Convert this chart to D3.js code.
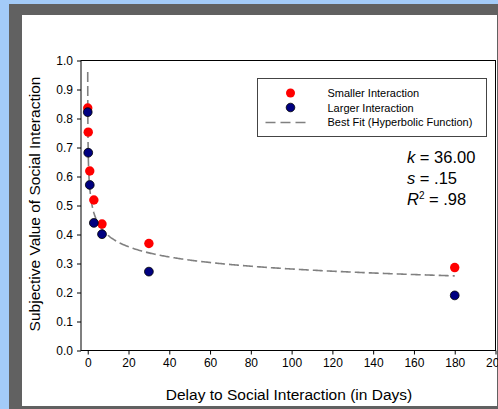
<!DOCTYPE html>
<html>
<head>
<meta charset="utf-8">
<script src="https://cdn.jsdelivr.net/npm/d3@7"></script>
<style>
  body { margin: 0; }
  svg { display: block; font-family: "Liberation Sans", Arial, sans-serif; }
</style>
</head>
<body>
<svg width="498" height="409"></svg>
<script>
var svg = d3.select("svg"),
  width = +svg.attr("width"),
  height = +svg.attr("height");

// delays in days
var delays = [0, 0.25, 1, 3, 7, 30, 180];
var smaller = [0.836, 0.753, 0.619, 0.519, 0.436, 0.369, 0.286];
var larger = [0.822, 0.682, 0.571, 0.440, 0.401, 0.272, 0.190];
var xTicks = [0, 20, 40, 60, 80, 100, 120, 140, 160, 180, 200];
var yTicks = [0, 0.1, 0.2, 0.3, 0.4, 0.5, 0.6, 0.7, 0.8, 0.9, 1.0];
var legendLabels = ["Smaller Interaction", "Larger Interaction", "Best Fit (Hyperbolic Function)"];

// fit parameters shown on the chart
var fitA = 0.96, fitK = 36, fitS = 0.15;

// page frame
svg.append("rect").attr("width", width).attr("height", height).attr("fill", "#a3cbf8");
svg.append("rect").attr("x", 9).attr("y", 4).attr("width", width - 9).attr("height", height - 4).attr("fill", "#616161");
svg.append("rect").attr("x", 22).attr("y", 15).attr("width", 475).attr("height", 391).attr("fill", "#fff");

var x = d3.scaleLinear()
  .domain([-3.3, 200])
  .range([81, 495.5]);

var y = d3.scaleLinear()
  .domain([0, 1])
  .range([350.5, 60.5]);

// plot box
svg.append("rect")
  .attr("x", x.range()[0]).attr("y", y.range()[1])
  .attr("width", x.range()[1] - x.range()[0])
  .attr("height", y.range()[0] - y.range()[1])
  .attr("fill", "none")
  .attr("stroke", "#000");

var xAxis = svg.append("g")
  .attr("transform", "translate(0," + y(0) + ")")
  .call(d3.axisBottom(x).tickValues(xTicks).tickSize(4).tickPadding(4).tickFormat(d3.format("d")));

var yAxis = svg.append("g")
  .attr("transform", "translate(" + x.range()[0] + ",0)")
  .call(d3.axisLeft(y).tickValues(yTicks).tickSize(4).tickPadding(4).tickFormat(d3.format(".1f")));

[xAxis, yAxis].forEach(function(g) {
  g.select(".domain").remove();
  g.selectAll("text").attr("font-size", 12).attr("fill", "#000").attr("font-family", null);
  g.selectAll("line").attr("stroke", "#000");
});

svg.append("text")
  .attr("x", 289)
  .attr("y", 400)
  .attr("text-anchor", "middle")
  .attr("font-size", 15.5)
  .text("Delay to Social Interaction (in Days)");

svg.append("text")
  .attr("transform", "translate(40,204) rotate(-90)")
  .attr("text-anchor", "middle")
  .attr("font-size", 15.5)
  .text("Subjective Value of Social Interaction");

// best fit curve
var fitLine = d3.line()
  .x(function(d) { return x(d); })
  .y(function(d) { return y(fitA / Math.pow(1 + fitK * d, fitS)); });

var curveX = d3.range(0, 1, 0.005).concat(d3.range(1, 180.5, 0.5));

svg.append("path")
  .datum(curveX)
  .attr("d", fitLine)
  .attr("fill", "none")
  .attr("stroke", "#808080")
  .attr("stroke-width", 1.6)
  .attr("stroke-dasharray", "10,4");

svg.append("g")
  .selectAll("circle")
  .data(delays)
  .enter().append("circle")
  .attr("cx", function(d) { return x(d); })
  .attr("cy", function(d, i) { return y(smaller[i]); })
  .attr("r", 4.7)
  .attr("fill", "#ff0000");

svg.append("g")
  .selectAll("circle")
  .data(delays)
  .enter().append("circle")
  .attr("cx", function(d) { return x(d); })
  .attr("cy", function(d, i) { return y(larger[i]); })
  .attr("r", 4.4)
  .attr("fill", "#000080")
  .attr("stroke", "#000")
  .attr("stroke-width", 0.8);

// legend
var lg = svg.append("g").attr("transform", "translate(257.5,78.5)");
lg.append("rect")
  .attr("width", 229)
  .attr("height", 58)
  .attr("fill", "#fff")
  .attr("stroke", "#444");

lg.append("circle").attr("cx", 33).attr("cy", 14.5).attr("r", 4.5).attr("fill", "#ff0000");
lg.append("circle").attr("cx", 33).attr("cy", 29).attr("r", 4.3).attr("fill", "#000080").attr("stroke", "#000").attr("stroke-width", 0.8);
lg.append("line")
  .attr("x1", 8).attr("x2", 53).attr("y1", 44).attr("y2", 44)
  .attr("stroke", "#808080").attr("stroke-width", 1.6).attr("stroke-dasharray", "10,5");

lg.selectAll("text.lbl")
  .data(legendLabels)
  .enter().append("text")
  .attr("class", "lbl")
  .attr("x", 70)
  .attr("y", function(d, i) { return 18.5 + i * 14.5; })
  .attr("font-size", 11)
  .text(function(d) { return d; });

// fit statistics
var stats = svg.append("g").attr("font-size", 16.5);
var t1 = stats.append("text").attr("x", 407).attr("y", 163);
t1.append("tspan").attr("font-style", "italic").text("k");
t1.append("tspan").text(" = 36.00");
var t2 = stats.append("text").attr("x", 407).attr("y", 184);
t2.append("tspan").attr("font-style", "italic").text("s");
t2.append("tspan").text(" = .15");
var t3 = stats.append("text").attr("x", 407).attr("y", 204.5);
t3.append("tspan").attr("font-style", "italic").text("R");
t3.append("tspan").attr("font-size", 10).attr("dy", -6).text("2");
t3.append("tspan").attr("dy", 6).text(" = .98");
</script>
</body>
</html>
